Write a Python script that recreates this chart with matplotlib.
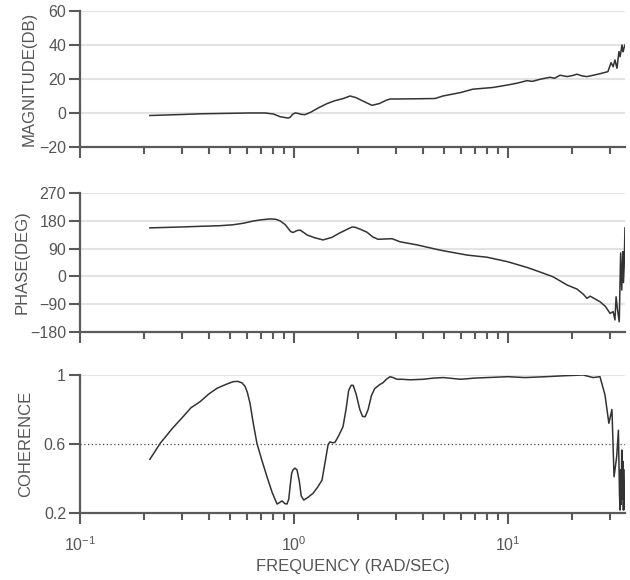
import matplotlib
matplotlib.use("Agg")
import matplotlib.pyplot as plt
from matplotlib.ticker import LogLocator, NullFormatter, FixedLocator

plt.rcParams['font.family'] = ['Liberation Sans', 'DejaVu Sans']
plt.rcParams['mathtext.fontset'] = 'custom'
plt.rcParams['mathtext.rm'] = 'Liberation Sans'

# ---------------- data ----------------
mag_freq = [0.212, 0.30, 0.364, 0.50, 0.623, 0.732, 0.80, 0.861, 0.90, 0.938,
            0.96, 0.985, 1.011, 1.04, 1.08, 1.125, 1.2, 1.3, 1.426, 1.55,
            1.7, 1.83, 1.95, 2.1, 2.313, 2.5, 2.7, 2.811, 3.5, 4.56,
            4.97, 6.0, 6.86, 8.51, 10.0, 11.0, 12.27, 13.0, 14.1, 15.7,
            16.5, 17.5, 18.9, 20.0, 21.0, 22.2, 23.4, 25.5, 27.5, 29.3,
            30.3, 31.0, 31.6, 32.3, 33.0, 33.4, 34.1, 34.5, 34.8, 35.2]
mag_db = [-1.5, -0.9, -0.5, -0.2, 0.0, 0.0, -0.6, -2.2, -2.6, -3.0,
          -2.5, -0.8, 0.0, -0.2, -0.8, -1.0, 0.5, 3.0, 5.5, 7.2,
          8.5, 10.0, 9.0, 7.0, 4.5, 5.5, 7.5, 8.2, 8.3, 8.5,
          10.0, 12.0, 14.0, 15.0, 16.5, 17.5, 19.0, 18.6, 19.8, 21.0,
          20.4, 22.2, 21.4, 22.0, 22.8, 21.8, 21.4, 22.4, 23.4, 24.3,
          29.6, 27.2, 31.2, 26.3, 36.1, 33.1, 40.0, 36.0, 38.0, 40.0]

ph_freq = [0.212, 0.30, 0.364, 0.45, 0.519, 0.58, 0.643, 0.70, 0.773, 0.82,
           0.86, 0.908, 0.94, 0.965, 0.99, 1.03, 1.067, 1.11, 1.151, 1.25,
           1.366, 1.50, 1.64, 1.78, 1.87, 1.93, 2.05, 2.193, 2.33, 2.47,
           2.65, 2.871, 3.128, 3.755, 4.81, 6.43, 7.98, 9.89, 12.27, 14.0,
           16.2, 18.9, 21.0, 22.5, 23.4, 24.2, 26.9, 28.5, 30.0, 31.0,
           31.6, 32.0, 32.5, 33.1, 33.6, 34.0, 34.4, 34.6, 34.9, 35.2]
ph_deg = [157, 160, 162, 164, 167, 172, 179, 183, 186, 185,
          180, 168, 155, 145, 142, 148, 150, 142, 134, 125,
          118, 126, 141, 153, 160, 159, 152, 143, 128, 120,
          121, 122, 112, 102, 85, 69, 62, 48, 29, 15,
          -1, -28, -41, -58, -71, -64, -82, -97, -120, -114,
          -141, -66, -109, -147, 76, -44, 80, -20, 31, 157]

coh_freq = [0.212, 0.237, 0.27, 0.303, 0.33, 0.364, 0.40, 0.437, 0.48, 0.519,
            0.545, 0.570, 0.590, 0.605, 0.623, 0.645, 0.671, 0.71, 0.748, 0.79,
            0.833, 0.855, 0.879, 0.905, 0.927, 0.945, 0.96, 0.975, 0.989, 1.01,
            1.033, 1.06, 1.08, 1.11, 1.16, 1.227, 1.29, 1.351, 1.40, 1.442,
            1.47, 1.52, 1.555, 1.62, 1.694, 1.75, 1.80, 1.85, 1.89, 1.95,
            2.03, 2.09, 2.15, 2.22, 2.30, 2.38, 2.443, 2.52, 2.606, 2.70,
            2.811, 2.9, 3.03, 3.2, 3.5, 4.0, 4.5, 5.0, 6.0, 7.0,
            8.0, 10.0, 12.0, 15.0, 18.0, 22.4, 25.0, 26.9, 28.4, 29.6,
            30.6, 31.3, 32.2, 32.8, 33.2, 33.4, 33.6, 33.8, 34.0, 34.2,
            34.4, 34.6, 34.8, 35.0, 35.2]
coh = [0.511, 0.604, 0.69, 0.758, 0.81, 0.845, 0.89, 0.923, 0.945, 0.961,
       0.963, 0.955, 0.935, 0.90, 0.836, 0.72, 0.604, 0.50, 0.41, 0.32,
       0.252, 0.26, 0.27, 0.255, 0.252, 0.28, 0.36, 0.43, 0.45, 0.46,
       0.45, 0.38, 0.30, 0.275, 0.29, 0.314, 0.35, 0.39, 0.50, 0.595,
       0.612, 0.607, 0.61, 0.65, 0.70, 0.80, 0.91, 0.94, 0.94, 0.89,
       0.80, 0.76, 0.758, 0.80, 0.88, 0.92, 0.932, 0.945, 0.955, 0.975,
       0.99, 0.985, 0.975, 0.975, 0.972, 0.975, 0.982, 0.985, 0.975, 0.982,
       0.985, 0.99, 0.985, 0.99, 0.995, 1.0, 0.985, 0.99, 0.884, 0.72,
       0.80, 0.41, 0.526, 0.68, 0.30, 0.217, 0.45, 0.25, 0.565, 0.28,
       0.50, 0.217, 0.38, 0.22, 0.45]

mag_ticks = [-20, 0, 20, 40, 60]
ph_ticks = [-180, -90, 0, 90, 180, 270]
coh_ticks = [0.2, 0.6, 1.0]
coh_ticklabels = ['0.2', '0.6', '1']
coh_threshold = 0.6

# ---------------- figure ----------------
fig = plt.figure(figsize=(6.3, 5.8), dpi=100)
left, width = 0.127, 0.865
ax1 = fig.add_axes([left, 0.7466, width, 0.2345])
ax2 = fig.add_axes([left, 0.4276, width, 0.2397])
ax3 = fig.add_axes([left, 0.1155, width, 0.2380])

spine_c = '#5a5a5a'
text_c = '#555555'
grid_c = '#e3e3e3'
line_c = '#333333'

def style(ax, yticks, ylabels=None, gridvals=None):
    ax.set_xscale('log')
    ax.set_xlim(0.1, 35.2)
    for s in ['top', 'right']:
        ax.spines[s].set_visible(False)
    for s in ['left', 'bottom']:
        ax.spines[s].set_color(spine_c)
        ax.spines[s].set_linewidth(1.6)
    ax.set_ylim(yticks[0], yticks[-1])
    ax.yaxis.set_major_locator(FixedLocator(yticks))
    if ylabels is not None:
        ax.set_yticklabels(ylabels)
    ax.xaxis.set_major_locator(LogLocator(base=10, numticks=10))
    ax.xaxis.set_minor_locator(LogLocator(base=10, subs=range(2, 10), numticks=20))
    ax.xaxis.set_minor_formatter(NullFormatter())
    ax.tick_params(axis='both', which='major', length=8, width=1.5, color=spine_c,
                   labelcolor=text_c, labelsize=11.5, pad=2)
    ax.tick_params(axis='x', which='minor', length=5, width=1.5, color=spine_c)
    gv = gridvals if gridvals is not None else yticks[1:]
    for g in gv:
        ax.axhline(g, color=grid_c, lw=1.5, zorder=0)

style(ax1, mag_ticks)
ax1.plot(mag_freq, mag_db, color=line_c, lw=1.1)
ax1.set_ylabel('MAGNITUDE(DB)', color=text_c, fontsize=12, labelpad=2)
ax1.tick_params(axis='x', labelbottom=False)

style(ax2, ph_ticks)
ax2.plot(ph_freq, ph_deg, color=line_c, lw=1.1)
ax2.set_ylabel('PHASE(DEG)', color=text_c, fontsize=12, labelpad=0)
ax2.tick_params(axis='x', labelbottom=False)

style(ax3, coh_ticks, coh_ticklabels, gridvals=[1.0])
ax3.axhline(coh_threshold, color='#444444', lw=0.9, ls=(0, (1, 2)), zorder=1)
ax3.plot(coh_freq, coh, color=line_c, lw=1.1)
ax3.set_ylabel('COHERENCE', color=text_c, fontsize=12, labelpad=8)
ax3.set_xlabel('FREQUENCY (RAD/SEC)', color=text_c, fontsize=12, labelpad=4)
ax3.tick_params(axis='x', which='major', pad=8)

fig.savefig('out.png', dpi=100)
